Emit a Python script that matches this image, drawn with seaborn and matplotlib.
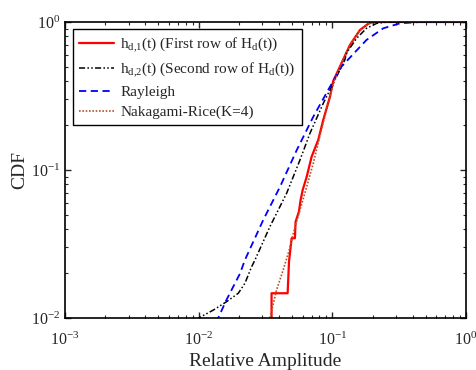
import numpy as np
import pandas as pd
import matplotlib
matplotlib.use("Agg")
import matplotlib.pyplot as plt
import seaborn as sns

# values (log-log axes)
red_x = [0.0336, 0.0351, 0.0351, 0.0463, 0.0474, 0.0496, 0.0525, 0.0531, 0.0562, 0.0579,
         0.0600, 0.0643, 0.0700, 0.0785, 0.0855, 0.0960, 0.1016, 0.114, 0.1355, 0.161,
         0.186, 0.20, 1.0]
red_y = [0.0090, 0.0100, 0.0147, 0.0147, 0.0240, 0.0346, 0.0346, 0.0447, 0.0523, 0.0627,
         0.0732, 0.090, 0.123, 0.160, 0.218, 0.313, 0.400, 0.500, 0.70, 0.883,
         0.975, 1.0, 1.0]

black_x = [0.0098, 0.0100, 0.01285, 0.0162, 0.0198, 0.0222, 0.0249, 0.0264, 0.0341, 0.0455,
           0.0573, 0.0680, 0.0855, 0.1076, 0.124, 0.128, 0.152, 0.180, 0.215, 0.26, 1.0]
black_y = [0.0095, 0.0100, 0.0113, 0.0129, 0.0147, 0.0172, 0.0222, 0.0247, 0.0414, 0.0696,
           0.117, 0.177, 0.282, 0.427, 0.554, 0.62, 0.776, 0.906, 0.98, 1.0, 1.0]

blue_x = [0.0135, 0.0140, 0.0161, 0.0204, 0.0222, 0.0304, 0.0406, 0.0541, 0.0720, 0.0960,
          0.117, 0.1355, 0.180, 0.240, 0.321, 0.45, 1.0]
blue_y = [0.0093, 0.0100, 0.0132, 0.0200, 0.0247, 0.0459, 0.0770, 0.136, 0.229, 0.365,
          0.499, 0.575, 0.756, 0.906, 0.980, 1.0, 1.0]

rice_x = [0.0339, 0.0341, 0.0383, 0.0430, 0.0476, 0.0510, 0.0573, 0.0643, 0.0720, 0.0832,
          0.0960, 0.1016, 0.114, 0.1355, 0.161, 0.190, 0.22, 1.0]
rice_y = [0.0095, 0.0100, 0.0155, 0.0213, 0.0288, 0.0373, 0.0537, 0.0770, 0.111, 0.190,
          0.310, 0.380, 0.500, 0.700, 0.880, 0.980, 1.0, 1.0]

labels = [r"h$\mathregular{_{d{,}1}}$(t) (First row of H$\mathregular{_d}$(t))",
          r"h$\mathregular{_{d{,}2}}$(t) (Second row of H$\mathregular{_d}$(t))",
          "Rayleigh",
          "Nakagami-Rice(K=4)"]

sns.set_style("ticks")
plt.rcParams["font.family"] = ["Liberation Serif", "DejaVu Serif"]
plt.rcParams["mathtext.fontset"] = "custom"
plt.rcParams["mathtext.rm"] = "Liberation Serif"
plt.rcParams["mathtext.it"] = "Liberation Serif:italic"

fig = plt.figure(figsize=(4.76, 3.70), dpi=100)
ax = fig.add_axes([65 / 476, 1 - 318 / 370, 401 / 476, 296 / 370])

sns.lineplot(x=red_x, y=red_y, ax=ax, color="red", lw=1.6, sort=False,
             estimator=None, label=labels[0])
sns.lineplot(x=black_x, y=black_y, ax=ax, color="black", lw=1.1, sort=False,
             estimator=None, label=labels[1])
ax.lines[-1].set_linestyle((0, (4, 1.5, 1, 1.5, 1, 1.5)))
sns.lineplot(x=blue_x, y=blue_y, ax=ax, color="blue", lw=1.3, sort=False,
             estimator=None, label=labels[2])
ax.lines[-1].set_linestyle((0, (4, 2.5)))
sns.lineplot(x=rice_x, y=rice_y, ax=ax, color="#b5542a", lw=1.2, sort=False,
             estimator=None, label=labels[3])
ax.lines[-1].set_linestyle((0, (1, 1)))

ax.set_xscale("log")
ax.set_yscale("log")
ax.set_xlim(1e-3, 1)
ax.set_ylim(1e-2, 1)

ax.tick_params(which="both", direction="in", top=True, right=True, labelsize=11.5)
ax.tick_params(axis="x", which="both", pad=10)
ax.tick_params(which="major", length=4, width=1)
ax.tick_params(which="minor", length=2.5, width=0.8)
for s in ax.spines.values():
    s.set_linewidth(1.2)
    s.set_color("black")

ax.set_xlabel("Relative Amplitude", fontsize=14, labelpad=3)
ax.set_ylabel("CDF", fontsize=14, labelpad=2)

leg = ax.legend(loc="upper left", bbox_to_anchor=(0.02, 0.976), borderaxespad=0,
                fontsize=11, handlelength=2.3, handletextpad=0.4, labelspacing=0.42,
                borderpad=0.4, fancybox=False, framealpha=1, edgecolor="black")
leg.get_frame().set_linewidth(1.0)

fig.savefig("out.png", dpi=100)
